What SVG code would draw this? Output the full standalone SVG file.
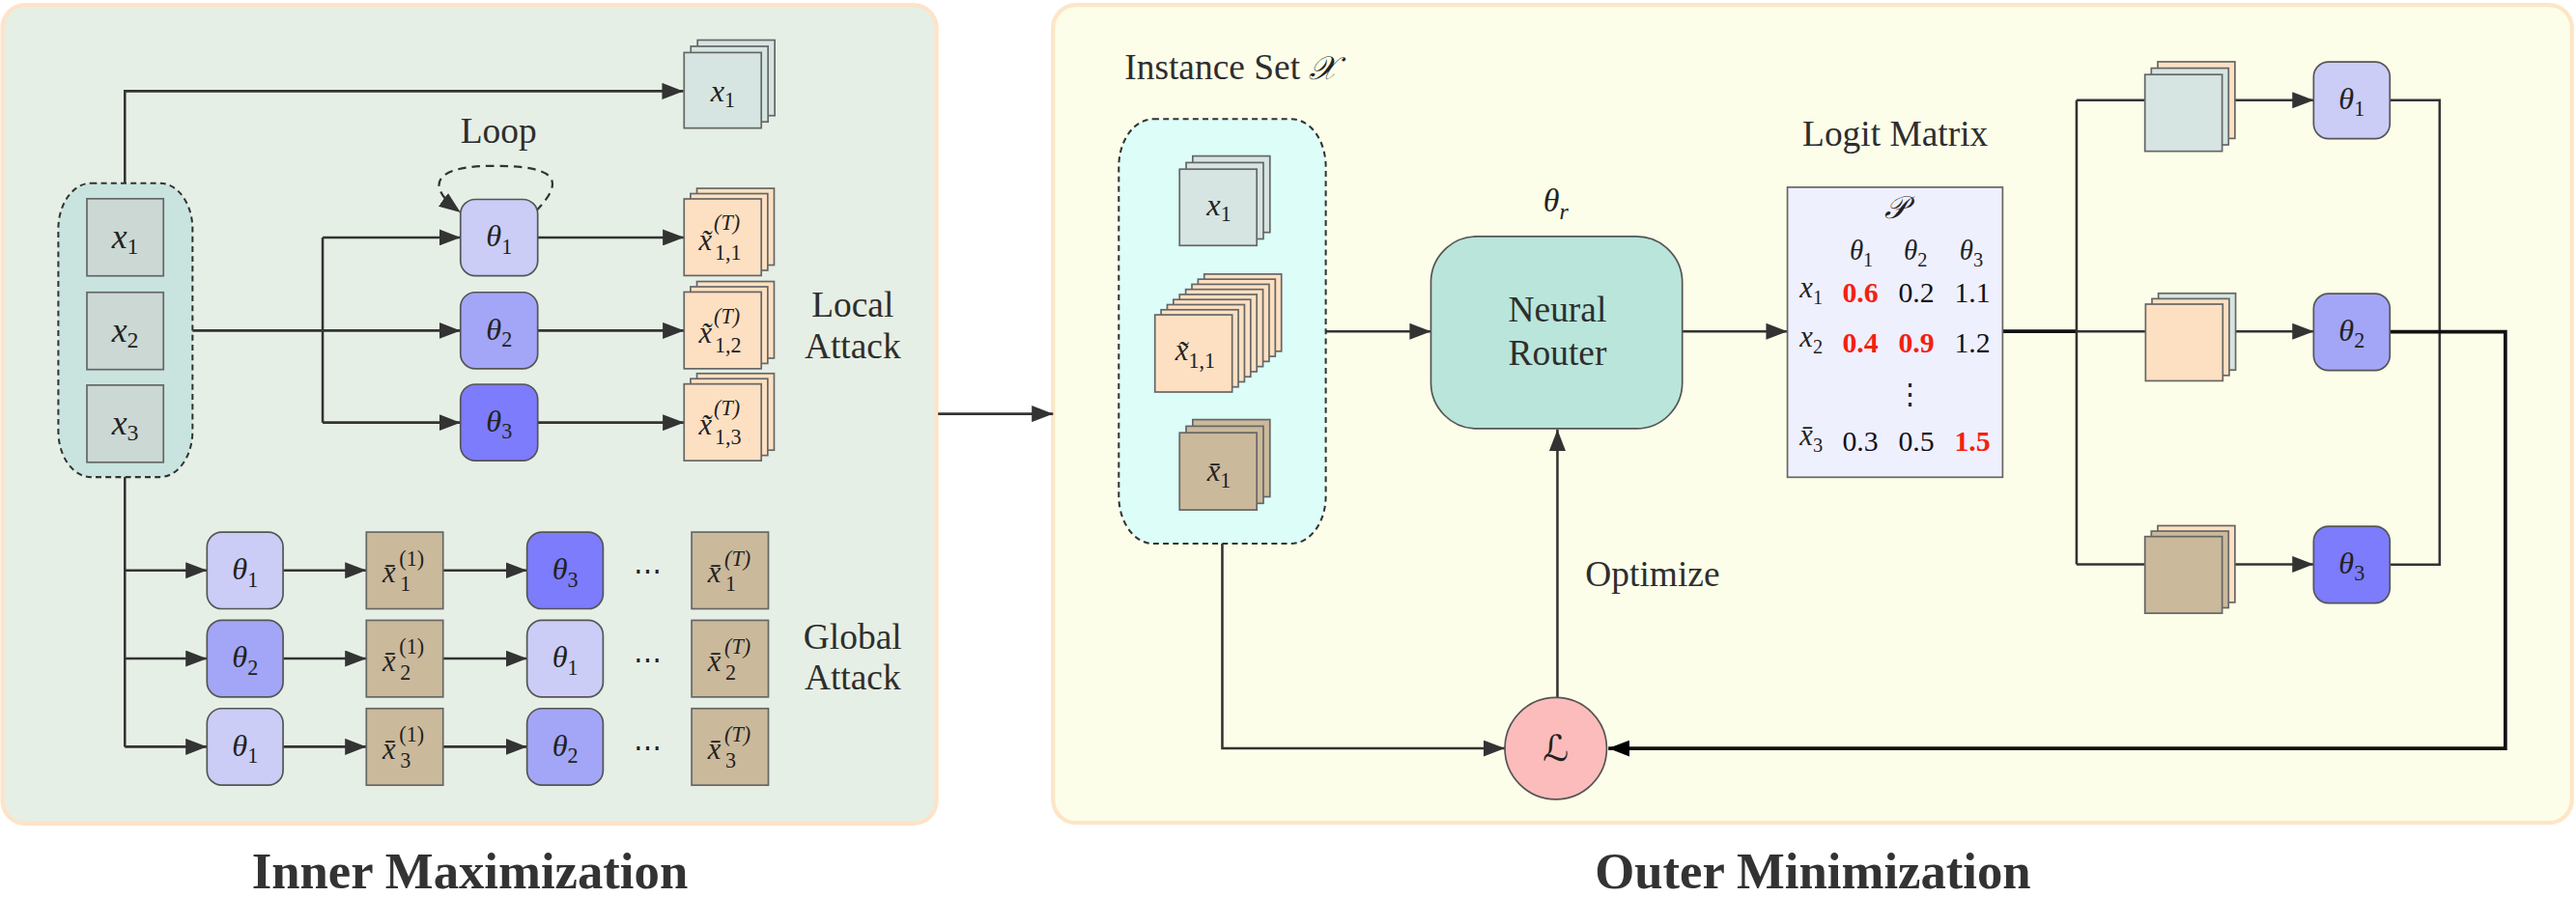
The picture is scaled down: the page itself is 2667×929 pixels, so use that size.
<svg xmlns="http://www.w3.org/2000/svg" width="2667" height="929" viewBox="0 0 2667 929">
<style>
.ln{fill:none;stroke:#333;stroke-width:1.5}
.lnk{fill:none;stroke:#111;stroke-width:2.2}
.dash{fill:none;stroke:#333;stroke-width:1.3;stroke-dasharray:5 3.5}
.card{stroke:#666;stroke-width:1}
.teal{fill:#d6e5e1}.peach{fill:#fde0c2}.brown{fill:#cbb99b}.xbox{fill:#cbd8d4}
.t1{fill:#cbcdf7}.t2{fill:#a3a6f6}.t3{fill:#7c7cfc}
.th{stroke:#555;stroke-width:1}
.grp{stroke:#333;stroke-width:1.2;stroke-dasharray:3.5 2.5}
.lbl{font-family:'Liberation Serif','Times New Roman',serif;font-size:22px;fill:#2e2e2e}
.ttl{font-family:'Liberation Serif','Times New Roman',serif;font-size:31px;font-weight:bold;fill:#333}
.m{font-family:'Liberation Serif','Times New Roman',serif;font-style:italic;fill:#222}
.n{font-style:normal}
.val{font-family:'Liberation Serif','Times New Roman',serif;font-size:17.5px;fill:#111;text-anchor:middle}
.red{fill:#f2220e;font-weight:bold}
.scr{font-family:'DejaVu Sans','Noto Sans',serif;font-style:italic;fill:#222}
</style>
<defs>
<marker id="ah" markerUnits="userSpaceOnUse" markerWidth="13" markerHeight="10" viewBox="0 0 13 10" refX="13" refY="5" orient="auto"><path d="M0,0 L13,5 L0,10 z" fill="#333"/></marker>
<marker id="ahk" markerUnits="userSpaceOnUse" markerWidth="13" markerHeight="10" viewBox="0 0 13 10" refX="13" refY="5" orient="auto"><path d="M0,0 L13,5 L0,10 z" fill="#000"/></marker>
</defs>
<g transform="scale(1.700893)">
<g id="panels">
<rect x="1.5" y="3" width="568.5" height="498.5" rx="14" fill="#e6efe5" stroke="#fde3c8" stroke-width="2.5"/>
<rect x="641" y="3" width="924.5" height="498" rx="14" fill="#fdfee9" stroke="#fde6c6" stroke-width="2.5"/>
<text class="ttl" x="286" y="541" text-anchor="middle">Inner Maximization</text>
<text class="ttl" x="1103.5" y="541" text-anchor="middle">Outer Minimization</text>
</g>
<g id="connectors">
<path class="ln" d="M76,111.5 V55.5 H416" marker-end="url(#ah)"/>
<path class="ln" d="M117,201.3 H196.4 M196.4,144.6 V257.3"/>
<path class="ln" d="M196.4,144.6 H280.3" marker-end="url(#ah)"/>
<path class="ln" d="M196.4,201.3 H280.3" marker-end="url(#ah)"/>
<path class="ln" d="M196.4,257.3 H280.3" marker-end="url(#ah)"/>
<path class="ln" d="M327.3,144.6 H416.4" marker-end="url(#ah)"/>
<path class="ln" d="M327.3,201.3 H416.4" marker-end="url(#ah)"/>
<path class="ln" d="M327.3,257.3 H416.4" marker-end="url(#ah)"/>
<path class="dash" d="M326.4,128.4 C346,108 336,101 300,101 C264,101 258,113 280.3,129.3" marker-end="url(#ah)"/>
<path class="ln" d="M76,290.5 V454.7"/>
<path class="ln" d="M76,347.3 H126" marker-end="url(#ah)"/>
<path class="ln" d="M76,401 H126" marker-end="url(#ah)"/>
<path class="ln" d="M76,454.7 H126" marker-end="url(#ah)"/>
<path class="ln" d="M172.3,347.3 H223" marker-end="url(#ah)"/>
<path class="ln" d="M172.3,401 H223" marker-end="url(#ah)"/>
<path class="ln" d="M172.3,454.7 H223" marker-end="url(#ah)"/>
<path class="ln" d="M269.7,347.3 H320.8" marker-end="url(#ah)"/>
<path class="ln" d="M269.7,401 H320.8" marker-end="url(#ah)"/>
<path class="ln" d="M269.7,454.7 H320.8" marker-end="url(#ah)"/>
<path class="ln" d="M571,252 H641" marker-end="url(#ah)"/>
<path class="ln" d="M807,201.8 H871" marker-end="url(#ah)"/>
<path class="ln" d="M1024,201.8 H1088" marker-end="url(#ah)"/>
<path class="lnk" d="M1219,201.8 H1264"/>
<path class="ln" d="M1264,61 V343.6"/>
<path class="ln" d="M1264,61 H1408.3" marker-end="url(#ah)"/>
<path class="ln" d="M1264,201.8 H1408.3" marker-end="url(#ah)"/>
<path class="ln" d="M1264,343.6 H1408.3" marker-end="url(#ah)"/>
<path class="ln" d="M1454.7,61 H1485 V343.8 H1454.7"/>
<path class="lnk" d="M1454.7,202 H1525 V455.7 H979" marker-end="url(#ahk)"/>
<path class="ln" d="M744,331 V455.7 H916" marker-end="url(#ah)"/>
<path class="ln" d="M948,424.7 V261.5" marker-end="url(#ah)"/>
</g>
<g id="inputs">
<rect class="grp" x="35.5" y="111.5" width="81.7" height="179" rx="20" ry="28" fill="#c9e4de"/>
</g>
<g id="x1"><rect class="card xbox" x="52.9" y="121" width="46.6" height="47"/><text class="m" x="76.2" y="151" font-size="21" text-anchor="middle">x<tspan class="n" font-size="14" dy="3.5">1</tspan></text></g>
<g id="x2"><rect class="card xbox" x="52.9" y="178" width="46.6" height="47"/><text class="m" x="76.2" y="208" font-size="21" text-anchor="middle">x<tspan class="n" font-size="14" dy="3.5">2</tspan></text></g>
<g id="x3"><rect class="card xbox" x="52.9" y="234.5" width="46.6" height="47"/><text class="m" x="76.2" y="264.5" font-size="21" text-anchor="middle">x<tspan class="n" font-size="14" dy="3.5">3</tspan></text></g>
<g id="topX1">
<rect class="card teal" x="424.6" y="24.4" width="47" height="46"/>
<rect class="card teal" x="420.5" y="28.2" width="47" height="46"/>
<rect class="card teal" x="416.4" y="32" width="47" height="46"/>
<text class="m" x="440" y="61.5" font-size="19" text-anchor="middle">x<tspan class="n" font-size="13" dy="3.5">1</tspan></text>
</g>
<g id="lt1"><rect class="th t1" x="280.3" y="121.4" width="47" height="46.5" rx="9"/><text class="m" x="303.8" y="150" font-size="19" text-anchor="middle">θ<tspan class="n" font-size="13" dy="4.5">1</tspan></text></g>
<g id="lt2"><rect class="th t2" x="280.3" y="178" width="47" height="46.5" rx="9"/><text class="m" x="303.8" y="206.7" font-size="19" text-anchor="middle">θ<tspan class="n" font-size="13" dy="4.5">2</tspan></text></g>
<g id="lt3"><rect class="th t3" x="280.3" y="234" width="47" height="46.5" rx="9"/><text class="m" x="303.8" y="262.7" font-size="19" text-anchor="middle">θ<tspan class="n" font-size="13" dy="4.5">3</tspan></text></g>
<g id="ls1">
<rect class="card peach" x="424.2" y="114.7" width="47" height="46.7"/>
<rect class="card peach" x="420.3" y="117.9" width="47" height="46.7"/>
<rect class="card peach" x="416.4" y="121.1" width="47" height="46.7"/>
<text class="m" x="425.3" y="152" font-size="18">x&#x303;</text>
<text class="m" x="434.5" y="140" font-size="13">(T)</text>
<text class="m n" x="435" y="158" font-size="13">1,1</text>
</g>
<g id="ls2">
<rect class="card peach" x="424.2" y="171.4" width="47" height="46.7"/>
<rect class="card peach" x="420.3" y="174.6" width="47" height="46.7"/>
<rect class="card peach" x="416.4" y="177.8" width="47" height="46.7"/>
<text class="m" x="425.3" y="208.7" font-size="18">x&#x303;</text>
<text class="m" x="434.5" y="196.7" font-size="13">(T)</text>
<text class="m n" x="435" y="214.7" font-size="13">1,2</text>
</g>
<g id="ls3">
<rect class="card peach" x="424.2" y="227.4" width="47" height="46.7"/>
<rect class="card peach" x="420.3" y="230.6" width="47" height="46.7"/>
<rect class="card peach" x="416.4" y="233.8" width="47" height="46.7"/>
<text class="m" x="425.3" y="264.7" font-size="18">x&#x303;</text>
<text class="m" x="434.5" y="252.7" font-size="13">(T)</text>
<text class="m n" x="435" y="270.7" font-size="13">1,3</text>
</g>
<g id="leftLabels">
<text class="lbl" x="303.5" y="87" text-anchor="middle">Loop</text>
<text class="lbl" x="519" y="193" text-anchor="middle">Local</text>
<text class="lbl" x="519" y="218" text-anchor="middle">Attack</text>
<text class="lbl" x="519" y="395" text-anchor="middle">Global</text>
<text class="lbl" x="519" y="420" text-anchor="middle">Attack</text>
</g>
<g id="grow1">
<rect class="th t1" x="126" y="324" width="46.3" height="46.7" rx="9"/><text class="m" x="149.2" y="352.7" font-size="19" text-anchor="middle">θ<tspan class="n" font-size="13" dy="4.5">1</tspan></text>
<rect class="card brown" x="223" y="324" width="46.7" height="46.7"/>
<text class="m" x="232.8" y="354.7" font-size="18">x&#x304;</text><text class="m n" x="243" y="344.3" font-size="13">(1)</text><text class="m n" x="243.5" y="360.1" font-size="13">1</text>
<rect class="th t3" x="320.8" y="324" width="46.3" height="46.7" rx="9"/><text class="m" x="344" y="352.7" font-size="19" text-anchor="middle">θ<tspan class="n" font-size="13" dy="4.5">3</tspan></text>
<text class="m n" x="394" y="353.5" font-size="17" text-anchor="middle">⋯</text>
<rect class="card brown" x="421" y="324" width="46.7" height="46.7"/>
<text class="m" x="430.8" y="354.7" font-size="18">x&#x304;</text><text class="m" x="441" y="344.3" font-size="13">(T)</text><text class="m n" x="441.5" y="360.1" font-size="13">1</text>
</g>
<g id="grow2">
<rect class="th t2" x="126" y="377.7" width="46.3" height="46.7" rx="9"/><text class="m" x="149.2" y="406.4" font-size="19" text-anchor="middle">θ<tspan class="n" font-size="13" dy="4.5">2</tspan></text>
<rect class="card brown" x="223" y="377.7" width="46.7" height="46.7"/>
<text class="m" x="232.8" y="408.4" font-size="18">x&#x304;</text><text class="m n" x="243" y="398" font-size="13">(1)</text><text class="m n" x="243.5" y="413.8" font-size="13">2</text>
<rect class="th t1" x="320.8" y="377.7" width="46.3" height="46.7" rx="9"/><text class="m" x="344" y="406.4" font-size="19" text-anchor="middle">θ<tspan class="n" font-size="13" dy="4.5">1</tspan></text>
<text class="m n" x="394" y="407.2" font-size="17" text-anchor="middle">⋯</text>
<rect class="card brown" x="421" y="377.7" width="46.7" height="46.7"/>
<text class="m" x="430.8" y="408.4" font-size="18">x&#x304;</text><text class="m" x="441" y="398" font-size="13">(T)</text><text class="m n" x="441.5" y="413.8" font-size="13">2</text>
</g>
<g id="grow3">
<rect class="th t1" x="126" y="431.4" width="46.3" height="46.7" rx="9"/><text class="m" x="149.2" y="460.1" font-size="19" text-anchor="middle">θ<tspan class="n" font-size="13" dy="4.5">1</tspan></text>
<rect class="card brown" x="223" y="431.4" width="46.7" height="46.7"/>
<text class="m" x="232.8" y="462.1" font-size="18">x&#x304;</text><text class="m n" x="243" y="451.7" font-size="13">(1)</text><text class="m n" x="243.5" y="467.5" font-size="13">3</text>
<rect class="th t2" x="320.8" y="431.4" width="46.3" height="46.7" rx="9"/><text class="m" x="344" y="460.1" font-size="19" text-anchor="middle">θ<tspan class="n" font-size="13" dy="4.5">2</tspan></text>
<text class="m n" x="394" y="460.9" font-size="17" text-anchor="middle">⋯</text>
<rect class="card brown" x="421" y="431.4" width="46.7" height="46.7"/>
<text class="m" x="430.8" y="462.1" font-size="18">x&#x304;</text><text class="m" x="441" y="451.7" font-size="13">(T)</text><text class="m n" x="441.5" y="467.5" font-size="13">3</text>
</g>
<g id="instanceSet">
<text class="lbl" x="684.5" y="48">Instance Set <tspan class="scr" font-size="20">𝒳</tspan></text>
<rect class="grp" x="681" y="72.5" width="126" height="258.5" rx="21" ry="29" fill="#dcfdf8"/>
<rect class="card teal" x="726" y="95" width="47" height="46.5"/>
<rect class="card teal" x="722" y="99" width="47" height="46.5"/>
<rect class="card teal" x="718" y="103" width="47" height="46.5"/>
<text class="m" x="742" y="131" font-size="19" text-anchor="middle">x<tspan class="n" font-size="13" dy="3.5">1</tspan></text>
<rect class="card peach" x="733" y="166.9" width="47" height="47"/>
<rect class="card peach" x="729.25" y="170" width="47" height="47"/>
<rect class="card peach" x="725.5" y="173.1" width="47" height="47"/>
<rect class="card peach" x="721.75" y="176.2" width="47" height="47"/>
<rect class="card peach" x="718" y="179.3" width="47" height="47"/>
<rect class="card peach" x="714.25" y="182.4" width="47" height="47"/>
<rect class="card peach" x="710.5" y="185.5" width="47" height="47"/>
<rect class="card peach" x="706.75" y="188.6" width="47" height="47"/>
<rect class="card peach" x="703" y="191.7" width="47" height="47"/>
<text class="m" x="727.5" y="219.5" font-size="18" text-anchor="middle">x&#x303;<tspan class="n" font-size="13" dy="4.5">1,1</tspan></text>
<rect class="card brown" x="726" y="255.5" width="47" height="47"/>
<rect class="card brown" x="722" y="259.5" width="47" height="47"/>
<rect class="card brown" x="718" y="263.5" width="47" height="47"/>
<text class="m" x="742" y="293" font-size="18" text-anchor="middle">x&#x304;<tspan class="n" font-size="13" dy="4">1</tspan></text>
</g>
<g id="router">
<rect x="871" y="144" width="153" height="117" rx="28" fill="#b9e5da" stroke="#555" stroke-width="1"/>
<text class="lbl" x="948" y="196" text-anchor="middle">Neural</text>
<text class="lbl" x="948" y="222" text-anchor="middle">Router</text>
<text class="m" x="947" y="129" font-size="20" text-anchor="middle">θ<tspan font-size="14" dy="4.5">r</tspan></text>
</g>
<g id="matrix">
<text class="lbl" x="1153.6" y="89" text-anchor="middle">Logit Matrix</text>
<rect x="1088" y="114" width="131" height="176.6" fill="#eff0fe" stroke="#666" stroke-width="1"/>
<text class="scr" x="1154" y="133" font-size="19" text-anchor="middle">𝒫</text>
<text class="m" x="1133" y="158" font-size="17" text-anchor="middle">θ<tspan class="n" font-size="12" dy="4">1</tspan></text>
<text class="m" x="1166" y="158" font-size="17" text-anchor="middle">θ<tspan class="n" font-size="12" dy="4">2</tspan></text>
<text class="m" x="1200" y="158" font-size="17" text-anchor="middle">θ<tspan class="n" font-size="12" dy="4">3</tspan></text>
<text class="m" x="1095.5" y="181" font-size="18">x<tspan class="n" font-size="12" dy="4">1</tspan></text>
<text class="val red" x="1132.4" y="184.3">0.6</text><text class="val" x="1166.5" y="184.3">0.2</text><text class="val" x="1200.6" y="184.3">1.1</text>
<text class="m" x="1095.5" y="211" font-size="18">x<tspan class="n" font-size="12" dy="4">2</tspan></text>
<text class="val red" x="1132.4" y="214.7">0.4</text><text class="val red" x="1166.5" y="214.7">0.9</text><text class="val" x="1200.6" y="214.7">1.2</text>
<text class="m n" x="1162.5" y="246" font-size="17" text-anchor="middle">⋮</text>
<text class="m" x="1095.5" y="271" font-size="18">x&#x304;<tspan class="n" font-size="12" dy="4">3</tspan></text>
<text class="val" x="1132.4" y="274.5">0.3</text><text class="val" x="1166.5" y="274.5">0.5</text><text class="val red" x="1200.6" y="274.5">1.5</text>
</g>
<g id="rs1">
<rect class="card peach" x="1313.4" y="37.6" width="47" height="46.7"/>
<rect class="card teal" x="1309.5" y="41.5" width="47" height="46.7"/>
<rect class="card teal" x="1305.6" y="45.4" width="47" height="46.7"/>
</g>
<g id="rs2">
<rect class="card teal" x="1313.8" y="178.6" width="47" height="46.7"/>
<rect class="card peach" x="1309.9" y="181.9" width="47" height="46.7"/>
<rect class="card peach" x="1306" y="185.2" width="47" height="46.7"/>
</g>
<g id="rs3">
<rect class="card peach" x="1313.4" y="320.1" width="47" height="46.7"/>
<rect class="card brown" x="1309.5" y="323.4" width="47" height="46.7"/>
<rect class="card brown" x="1305.6" y="326.7" width="47" height="46.7"/>
</g>
<g id="rt1"><rect class="th t1" x="1408.3" y="37.7" width="46.4" height="46.7" rx="9"/><text class="m" x="1431.5" y="66.3" font-size="19" text-anchor="middle">θ<tspan class="n" font-size="13" dy="4.5">1</tspan></text></g>
<g id="rt2"><rect class="th t2" x="1408.3" y="178.8" width="46.4" height="46.7" rx="9"/><text class="m" x="1431.5" y="207.4" font-size="19" text-anchor="middle">θ<tspan class="n" font-size="13" dy="4.5">2</tspan></text></g>
<g id="rt3"><rect class="th t3" x="1408.3" y="320.5" width="46.4" height="46.7" rx="9"/><text class="m" x="1431.5" y="349.1" font-size="19" text-anchor="middle">θ<tspan class="n" font-size="13" dy="4.5">3</tspan></text></g>
<g id="loss">
<circle cx="947" cy="455.7" r="31" fill="#fdbcbc" stroke="#555" stroke-width="1"/>
<text class="scr" x="947" y="463" font-size="22" text-anchor="middle">ℒ</text>
</g>
<g id="optimize"><text class="lbl" x="965" y="356.7">Optimize</text></g>
</g>
</svg>
